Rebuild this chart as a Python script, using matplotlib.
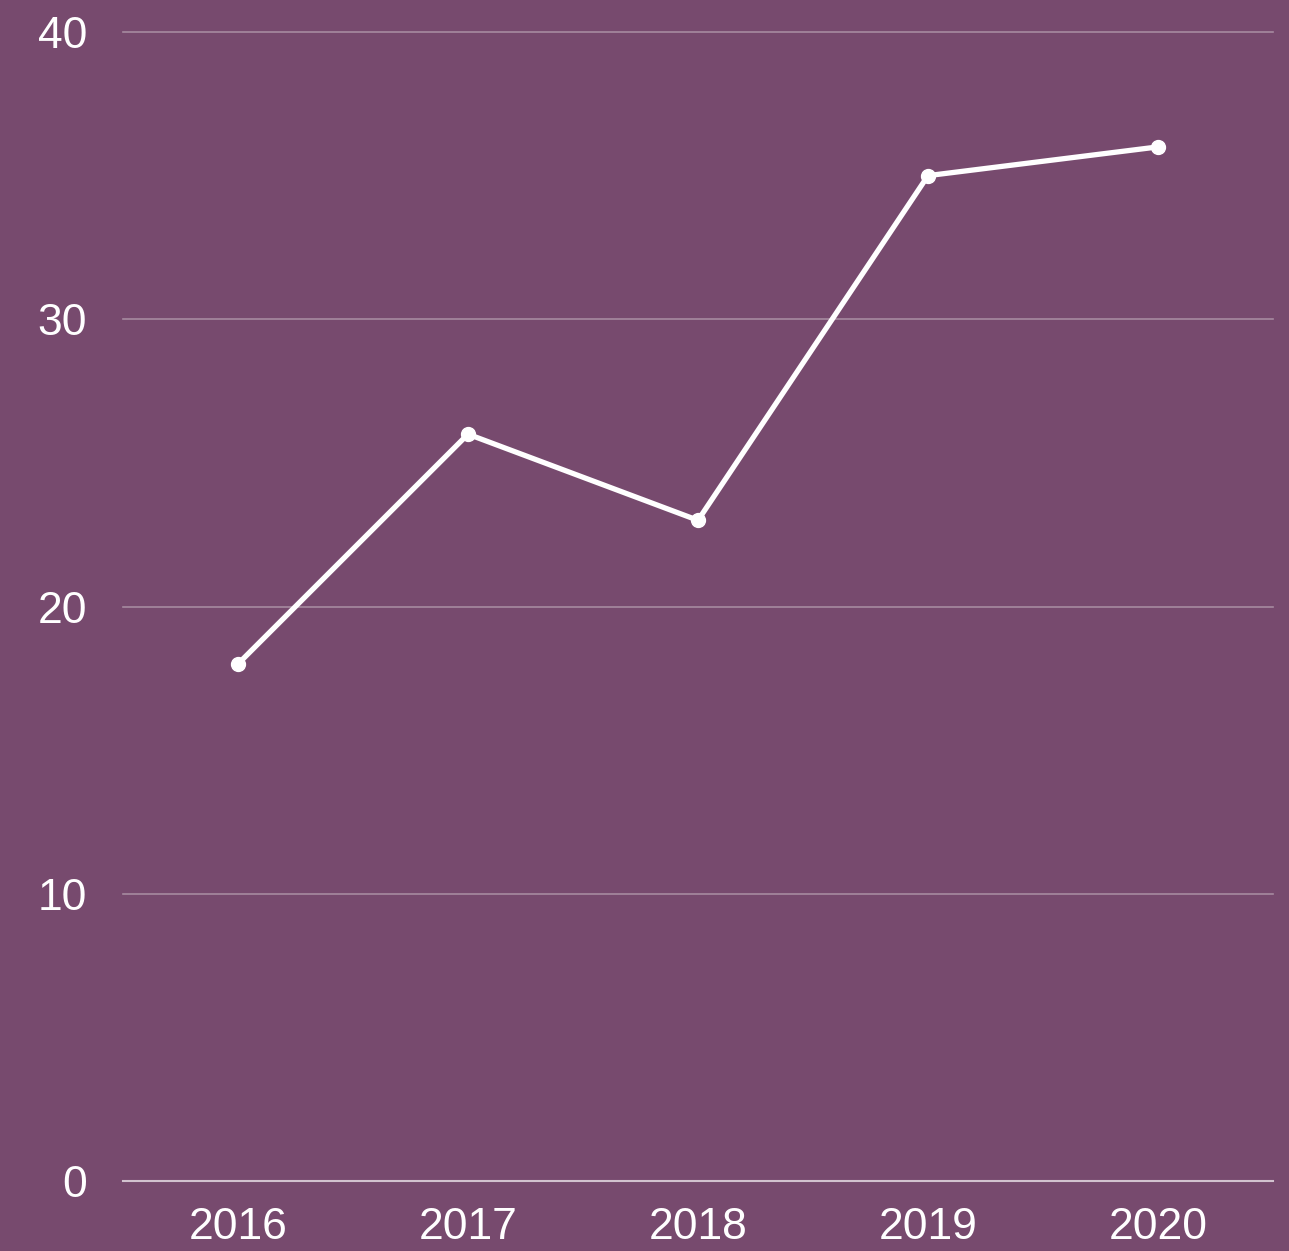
import matplotlib.pyplot as plt
import numpy as np

years = ['2016', '2017', '2018', '2019', '2020']
values = [18, 26, 23, 35, 36]
yticks = [0, 10, 20, 30, 40]

BG = '#774a6e'


def main():
    plt.rcParams['font.family'] = ['Liberation Sans', 'DejaVu Sans']

    f = plt.figure(figsize=(12.89, 12.51), dpi=100, facecolor=BG)
    ax = f.add_axes([123 / 1289, 1 - 1181 / 1251, 1150 / 1289, (1181 - 32) / 1251])
    ax.set_facecolor(BG)

    x = np.arange(len(years))
    ax.plot(x, values, color='white', lw=3.8, marker='o', ms=10,
            solid_capstyle='round', zorder=3, clip_on=False)

    ax.set_xlim(-0.5, len(years) - 0.5)
    ax.set_ylim(0, 40)
    ax.set_yticks(yticks)
    ax.set_xticks(x)
    ax.set_xticklabels(years)

    for v in yticks:
        if v == 0:
            ax.axhline(v, color='#d2c2cf', lw=1.5, zorder=2, clip_on=False)
        else:
            ax.axhline(v, color='#a68aa0', lw=1.2, zorder=1, clip_on=False)

    for s in ax.spines.values():
        s.set_visible(False)
    ax.tick_params(axis='both', length=0, labelcolor='white', labelsize=32)
    ax.tick_params(axis='y', pad=26)
    ax.tick_params(axis='x', pad=19)

    f.savefig('out.png', dpi=100, facecolor=BG)


if __name__ == '__main__':
    main()
